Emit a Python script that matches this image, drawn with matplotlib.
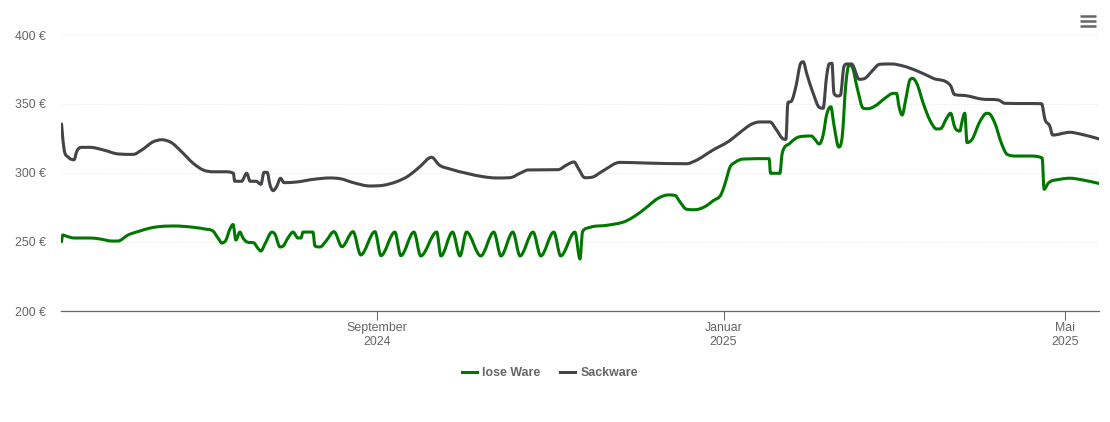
from datetime import date

import matplotlib
matplotlib.use("Agg")
from matplotlib import pyplot as plt
from matplotlib.lines import Line2D
from matplotlib.patches import PathPatch
from matplotlib.path import Path
import numpy as np

matplotlib.rc("font", family=["Liberation Sans", "DejaVu Sans"], size=8.9)

START = date(2024, 5, 13)

# days since START, price in euro
lose_days = [0.2, 0.6, 1.8, 4.6, 10.2, 13.7, 17.9, 20.0, 23.6, 27.8, 31.3, 34.8, 40.1, 45.4, 50.6,
             53.4, 55.2, 56.6, 58.0, 59.4, 60.5, 61.5, 62.9, 64.0, 65.4, 67.9, 68.9, 70.3, 71.7,
             74.2, 75.2, 77.0, 78.1, 79.8, 81.6, 83.3, 84.4, 85.1, 88.6, 89.3, 91.1, 93.2, 96.0,
             98.8, 102.7, 105.4, 110.4, 112.5, 117.4, 119.5, 124.1, 126.5, 132.1, 133.6, 137.7,
             140.3, 142.6, 147.6, 152.2, 154.7, 158.9, 161.4, 166.0, 168.7, 173.3, 175.7, 180.7,
             182.5, 183.4, 186.0, 191.9, 198.9, 201.8, 205.9, 210.0, 213.5, 215.9, 217.6, 220.0,
             222.9, 226.4, 229.3, 232.3, 233.7, 235.2, 237.0, 239.9, 249.0, 249.5, 252.8, 253.6,
             256.3, 259.8, 263.9, 265.1, 266.6, 268.0, 269.2, 270.7, 271.8, 273.5, 274.7, 276.0,
             277.1, 278.2, 280.0, 282.1, 283.9, 286.2, 289.7, 292.6, 293.8, 294.7, 295.8, 297.0,
             298.5, 299.5, 300.9, 303.2, 305.5, 307.9, 309.3, 311.4, 312.8, 314.3, 316.1, 316.7,
             317.8, 318.6, 320.2, 323.1, 325.5, 326.6, 328.4, 330.7, 332.7, 336.0, 340.7, 345.0,
             345.7, 347.1, 351.2, 354.8, 359.4, 365.0]
lose_prices = [250.2, 255.1, 254.3, 252.9, 252.9, 252.2, 250.7, 250.7, 255.1, 258.0, 260.1, 261.2,
               261.6, 260.9, 259.4, 258.0, 252.9, 249.3, 251.4, 259.4, 262.7, 251.4, 257.2, 252.9,
               250.0, 249.3, 246.4, 243.5, 248.5, 257.2, 255.8, 246.4, 247.1, 252.9, 257.2, 252.9,
               252.9, 257.2, 257.2, 247.1, 246.4, 250.7, 257.5, 246.6, 257.5, 240.6, 257.5, 240.1,
               257.2, 240.1, 257.2, 239.9, 257.2, 239.9, 257.2, 239.9, 257.2, 239.9, 257.2, 239.9,
               257.2, 239.9, 257.2, 239.9, 257.2, 239.9, 257.2, 237.7, 257.5, 260.6, 262.1, 265.4,
               268.8, 275.1, 281.7, 284.1, 283.8, 279.2, 273.7, 273.4, 275.6, 279.9, 285.3, 293.7,
               304.1, 307.7, 310.1, 310.4, 299.8, 299.8, 314.3, 321.5, 326.3, 326.8, 324.4, 321.0,
               327.5, 342.0, 348.0, 334.8, 318.8, 326.3, 365.0, 378.3, 377.0, 361.4, 346.9, 346.6,
               348.5, 354.1, 357.7, 357.7, 348.0, 342.0, 352.9, 367.4, 368.6, 365.0, 350.5, 338.4,
               331.9, 332.1, 339.6, 343.3, 333.1, 330.4, 336.0, 343.3, 322.0, 323.9, 337.2, 343.3,
               342.7, 336.0, 321.5, 313.5, 312.3, 312.3, 310.9, 288.2, 292.5, 295.4, 296.2, 294.9,
               292.4]

sack_days = [0.2, 1.1, 2.6, 4.6, 5.5, 7.3, 10.2, 14.9, 20.1, 25.4, 28.4, 32.5, 35.4, 38.9, 42.4,
             46.5, 50.0, 53.6, 57.7, 60.6, 61.1, 63.5, 65.3, 66.5, 68.6, 70.3, 71.4, 72.5, 73.5,
             74.6, 75.8, 77.2, 78.4, 82.9, 88.7, 94.6, 98.1, 102.8, 108.6, 113.3, 118.0, 122.1,
             126.2, 130.3, 133.0, 136.8, 142.6, 148.5, 153.2, 157.9, 161.4, 164.3, 174.8, 177.8,
             180.4, 181.9, 184.2, 186.6, 190.7, 196.5, 205.9, 220.0, 222.9, 229.3, 234.6, 239.9,
             242.3, 245.8, 249.3, 251.6, 254.0, 254.9, 255.6, 256.9, 258.4, 260.1, 261.0, 262.2,
             264.5, 266.6, 268.0, 269.2, 270.1, 271.1, 271.8, 273.3, 274.1, 275.3, 276.3, 278.0,
             280.7, 282.7, 285.0, 287.9, 292.1, 296.2, 300.9, 306.7, 312.8, 314.1, 318.4, 323.7,
             329.6, 331.9, 344.8, 346.0, 347.7, 348.7, 354.8, 358.3, 365.0]
sack_prices = [335.5, 316.7, 311.4, 309.6, 315.4, 318.6, 318.6, 316.7, 313.8, 313.5, 316.7, 322.7,
               324.1, 321.9, 315.4, 307.0, 302.2, 300.9, 300.9, 299.8, 294.0, 294.0, 299.8, 294.0,
               294.0, 291.8, 300.5, 300.5, 291.3, 287.2, 290.1, 296.2, 293.0, 293.5, 295.4, 296.4,
               295.9, 293.0, 290.6, 291.1, 293.7, 297.8, 304.6, 311.4, 305.8, 302.9, 299.8, 297.3,
               296.4, 296.6, 299.8, 302.2, 302.4, 305.8, 308.0, 303.4, 296.6, 296.9, 301.7, 307.7,
               307.2, 306.7, 308.7, 316.7, 322.7, 331.2, 334.8, 337.0, 337.0, 331.2, 324.6, 324.4,
               350.9, 352.2, 362.5, 379.5, 380.6, 372.2, 357.7, 347.6, 346.9, 369.8, 379.0, 379.5,
               357.7, 355.8, 356.5, 377.0, 379.0, 379.0, 367.9, 368.6, 373.4, 378.8, 379.0, 377.5,
               374.1, 368.6, 363.3, 357.0, 356.0, 353.6, 352.9, 350.5, 350.2, 338.9, 334.0, 327.5,
               329.5, 328.3, 324.7]

y_ticks = [200, 250, 300, 350, 400]
x_dates = [date(2024, 9, 1), date(2025, 1, 1), date(2025, 5, 1)]
x_labels = ["September\n2024", "Januar\n2025", "Mai\n2025"]

GREEN = "#007800"
DARK = "#434348"
TEXT = "#666666"


def spline_path(xs, ys):
    # monotone cubic through the points, the source chart draws splines too
    xs = np.array(xs, dtype=float)
    ys = np.array(ys, dtype=float)
    h = np.diff(xs)
    d = np.diff(ys) / h
    m = np.zeros(len(xs))
    m[0] = d[0]
    m[-1] = d[-1]
    for i in range(1, len(xs) - 1):
        if d[i - 1] * d[i] > 0:
            central = (d[i - 1] * h[i] + d[i] * h[i - 1]) / (h[i] + h[i - 1])
            m[i] = np.sign(central) * min(abs(central), 3 * min(abs(d[i - 1]), abs(d[i])))
    verts = [(xs[0], ys[0])]
    codes = [Path.MOVETO]
    for i in range(len(h)):
        verts.append((xs[i] + h[i] / 3, ys[i] + m[i] * h[i] / 3))
        verts.append((xs[i + 1] - h[i] / 3, ys[i + 1] - m[i + 1] * h[i] / 3))
        verts.append((xs[i + 1], ys[i + 1]))
        codes += [Path.CURVE4] * 3
    return Path(verts, codes)


fig = plt.figure(figsize=(11.1, 4.22), dpi=100)
ax = fig.add_axes([61 / 1110, 111 / 422, 1038 / 1110, 276 / 422])

ax.add_patch(PathPatch(spline_path(lose_days, lose_prices), fc="none", ec=GREEN, lw=2.2,
                       capstyle="round", joinstyle="round", zorder=3))
ax.add_patch(PathPatch(spline_path(sack_days, sack_prices), fc="none", ec=DARK, lw=2.2,
                       capstyle="round", joinstyle="round", zorder=3))

ax.set_xlim(0, 365)
ax.set_ylim(200, 400)
ax.set_yticks(y_ticks)
ax.set_yticklabels(["{} €".format(v) for v in y_ticks], color=TEXT)
ax.set_xticks([(d - START).days for d in x_dates])
ax.set_xticklabels(x_labels, color=TEXT, linespacing=1.3)
ax.tick_params(axis="y", length=0, pad=11)
ax.tick_params(axis="x", length=6.8, width=0.75, color=TEXT, pad=0.8)

ax.grid(axis="y", color="#e6e6e6", linewidth=0.72, linestyle=(0, (1, 1.5)))
ax.set_axisbelow(True)
for side in ["top", "left", "right"]:
    ax.spines[side].set_visible(False)
ax.spines["bottom"].set_color(TEXT)
ax.spines["bottom"].set_linewidth(0.9)
ax.patch.set_alpha(0)

handles = [Line2D([], [], color=GREEN, lw=2.2, label="lose Ware"),
           Line2D([], [], color=DARK, lw=2.2, label="Sackware")]
ax.legend(handles=handles, ncol=2, frameon=False, loc="center",
          bbox_to_anchor=(550 / 1110, (422 - 373) / 422), bbox_transform=fig.transFigure,
          prop={"weight": "bold", "size": 8.9}, labelcolor=TEXT, handlelength=1.22,
          handletextpad=0.42, columnspacing=1.6, borderpad=0)

# menu icon top right
for py in [16, 21, 26]:
    fig.add_artist(Line2D([1080 / 1110, 1096 / 1110], [(422 - py) / 422] * 2, color=TEXT,
                          lw=1.8, solid_capstyle="butt"))

plt.savefig("out.png", dpi=100)
plt.close()
